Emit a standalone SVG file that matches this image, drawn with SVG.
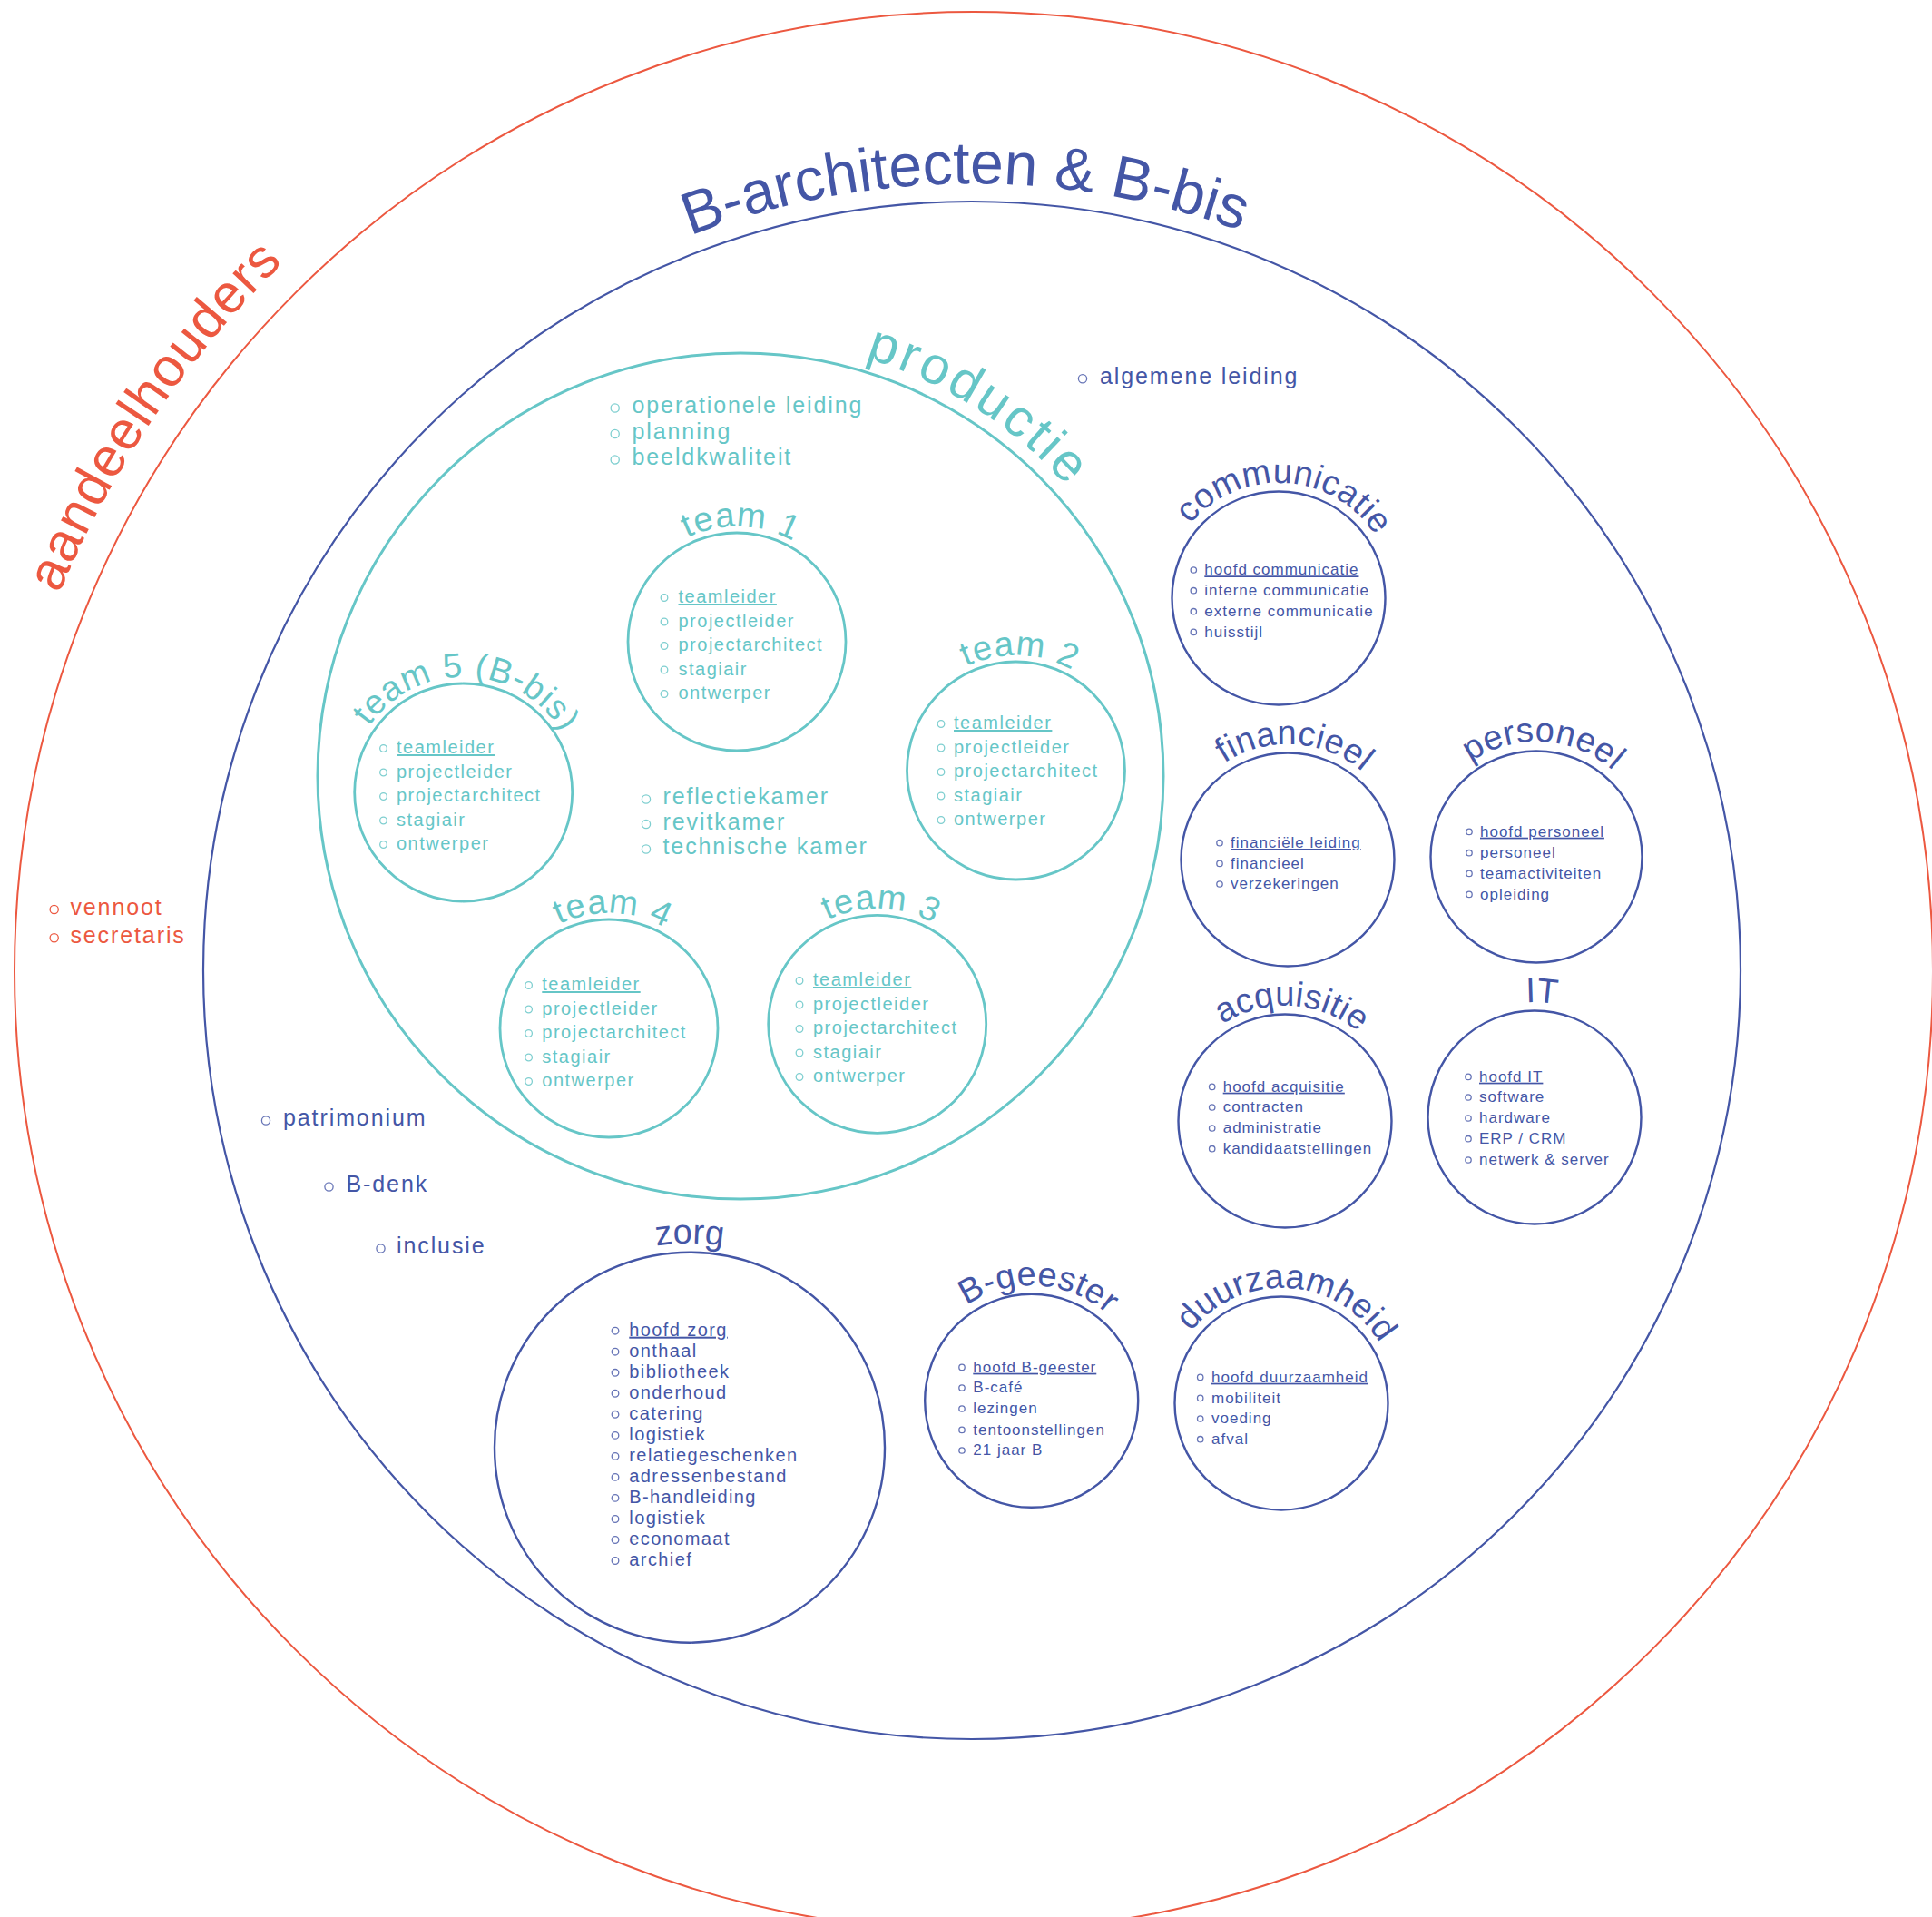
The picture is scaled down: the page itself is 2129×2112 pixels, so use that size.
<svg xmlns="http://www.w3.org/2000/svg" width="2129" height="2112" viewBox="0 0 2129 2112">
<style>
text{font-family:"Liberation Sans",Arial,Helvetica,sans-serif}
.red{fill:#EC5840}
.blue{fill:#4456A6}
.teal{fill:#66C6C7}
.c-red{fill:none;stroke:#EC5840;stroke-width:2}
.c-blue{fill:none;stroke:#4456A6;stroke-width:2.2}
.c-sub{fill:none;stroke:#4456A6;stroke-width:2.4}
.c-prod{fill:none;stroke:#66C6C7;stroke-width:3}
.c-team{fill:none;stroke:#66C6C7;stroke-width:2.8}
.bt{fill:none;stroke:#7FCFD0;stroke-width:1.3}
.bb{fill:none;stroke:#6674B6;stroke-width:1.3}
.br{fill:none;stroke:#EC5840;stroke-width:1.3}
.big{font-size:66px}
.alab{font-size:60px;letter-spacing:1px}
.plab{font-size:58px;letter-spacing:3.5px}
.lab{font-size:38px;letter-spacing:0.3px}
.tlab{font-size:38px;letter-spacing:1px}
.l25{font-size:25px;letter-spacing:1.9px}
.l20{font-size:20px;letter-spacing:1.5px}
.l17{font-size:17px;letter-spacing:1px}
.u{text-decoration:underline}
</style>
<defs>
<path id="p-aand" d="M92.5,1546.1 A1090,1090 0 0 1 1150.9,-17.2"/>
<path id="p-barch" d="M206.7,1001 A867,867 0 0 1 1934,985.9"/>
<path id="p-prod" d="M462.5,528.8 A481,481 0 0 1 1259.7,1040.6"/>
<path id="p-t1" d="M685.95,691.52 A127,127 0 0 1 938.83,700.35"/>
<path id="p-t2" d="M993.45,833.52 A127,127 0 0 1 1246.33,842.35"/>
<path id="p-t3" d="M840.65,1112.82 A127,127 0 0 1 1093.53,1121.65"/>
<path id="p-t4" d="M544.95,1117.52 A127,127 0 0 1 797.83,1126.35"/>
<path id="p-t5" d="M384.65,857.52 A127,127 0 0 1 637.53,866.35"/>
<path id="p-comm" d="M1283.39,640.23 A127,127 0 0 1 1535.96,655.68"/>
<path id="p-fin" d="M1293.39,928.23 A127,127 0 0 1 1545.96,943.68"/>
<path id="p-pers" d="M1567.39,925.23 A127,127 0 0 1 1819.96,940.68"/>
<path id="p-acq" d="M1290.39,1216.23 A127,127 0 0 1 1542.96,1231.68"/>
<path id="p-it" d="M1565.39,1212.23 A127,127 0 0 1 1817.96,1227.68"/>
<path id="p-bg" d="M1011.09,1524.53 A127,127 0 0 1 1263.66,1539.98"/>
<path id="p-duur" d="M1286.39,1527.23 A127,127 0 0 1 1538.96,1542.68"/>
<path id="p-zorg" d="M535.86,1575.09 A225,225 0 0 1 984.14,1575.09"/>
</defs>

<g id="aandeelhouders">
<circle class="c-red" cx="1073" cy="1070" r="1057"/>
<text class="red alab"><textPath href="#p-aand" startOffset="50%" text-anchor="middle">aandeelhouders</textPath></text>
<circle class="br" cx="59.7" cy="1002" r="4.6"/>
<circle class="br" cx="59.7" cy="1033.2" r="4.6"/>
<text class="red l25"><tspan x="77.4" y="1007.5">vennoot</tspan><tspan x="77.4" y="1038.7">secretaris</tspan></text>
</g>

<g id="b-architecten">
<circle class="c-blue" cx="1071" cy="1069" r="847"/>
<text class="blue big"><textPath href="#p-barch" startOffset="50%" text-anchor="middle">B-architecten &amp; B-bis</textPath></text>
<circle class="bb" cx="1193" cy="417.2" r="4.6"/>
<text class="blue l25" x="1212" y="422.7">algemene leiding</text>
<circle class="bb" cx="293" cy="1234.5" r="4.6"/>
<text class="blue l25" x="312" y="1240">patrimonium</text>
<circle class="bb" cx="362.5" cy="1307.5" r="4.6"/>
<text class="blue l25" x="381.5" y="1313">B-denk</text>
<circle class="bb" cx="419.5" cy="1375.5" r="4.6"/>
<text class="blue l25" x="437" y="1381">inclusie</text>
</g>

<g id="productie">
<circle class="c-prod" cx="816" cy="855" r="466"/>
<text class="teal plab"><textPath href="#p-prod" startOffset="50%" text-anchor="middle">productie</textPath></text>
<circle class="bt" cx="677.7" cy="449.5" r="4.6"/>
<circle class="bt" cx="677.7" cy="478" r="4.6"/>
<circle class="bt" cx="677.7" cy="506.5" r="4.6"/>
<text class="teal l25"><tspan x="696.5" y="455">operationele leiding</tspan><tspan x="696.5" y="483.5">planning</tspan><tspan x="696.5" y="512">beeldkwaliteit</tspan></text>
<circle class="bt" cx="712" cy="880.5" r="4.6"/>
<circle class="bt" cx="712" cy="908" r="4.6"/>
<circle class="bt" cx="712" cy="935.5" r="4.6"/>
<text class="teal l25"><tspan x="730.5" y="886">reflectiekamer</tspan><tspan x="730.5" y="913.5">revitkamer</tspan><tspan x="730.5" y="941">technische kamer</tspan></text>
</g>

<g id="team-1">
<circle class="c-team" cx="812" cy="707" r="120"/>
<text class="teal tlab"><textPath href="#p-t1" startOffset="50%" text-anchor="middle">team 1</textPath></text>
<circle class="bt" cx="732" cy="658.5" r="3.8"/>
<circle class="bt" cx="732" cy="685" r="3.8"/>
<circle class="bt" cx="732" cy="711.5" r="3.8"/>
<circle class="bt" cx="732" cy="738" r="3.8"/>
<circle class="bt" cx="732" cy="764.5" r="3.8"/>
<text class="teal l20"><tspan class="u" x="747.5" y="664">teamleider</tspan><tspan x="747.5" y="690.5">projectleider</tspan><tspan x="747.5" y="717">projectarchitect</tspan><tspan x="747.5" y="743.5">stagiair</tspan><tspan x="747.5" y="770">ontwerper</tspan></text>
</g>

<g id="team-2">
<circle class="c-team" cx="1119.5" cy="849" r="120"/>
<text class="teal tlab"><textPath href="#p-t2" startOffset="50%" text-anchor="middle">team 2</textPath></text>
<circle class="bt" cx="1037" cy="797.5" r="3.8"/>
<circle class="bt" cx="1037" cy="824" r="3.8"/>
<circle class="bt" cx="1037" cy="850.5" r="3.8"/>
<circle class="bt" cx="1037" cy="877" r="3.8"/>
<circle class="bt" cx="1037" cy="903.5" r="3.8"/>
<text class="teal l20"><tspan class="u" x="1051" y="803">teamleider</tspan><tspan x="1051" y="829.5">projectleider</tspan><tspan x="1051" y="856">projectarchitect</tspan><tspan x="1051" y="882.5">stagiair</tspan><tspan x="1051" y="909">ontwerper</tspan></text>
</g>

<g id="team-3">
<circle class="c-team" cx="966.7" cy="1128.3" r="120"/>
<text class="teal tlab"><textPath href="#p-t3" startOffset="50%" text-anchor="middle">team 3</textPath></text>
<circle class="bt" cx="881" cy="1080.5" r="3.8"/>
<circle class="bt" cx="881" cy="1107" r="3.8"/>
<circle class="bt" cx="881" cy="1133.5" r="3.8"/>
<circle class="bt" cx="881" cy="1160" r="3.8"/>
<circle class="bt" cx="881" cy="1186.5" r="3.8"/>
<text class="teal l20"><tspan class="u" x="896" y="1086">teamleider</tspan><tspan x="896" y="1112.5">projectleider</tspan><tspan x="896" y="1139">projectarchitect</tspan><tspan x="896" y="1165.5">stagiair</tspan><tspan x="896" y="1192">ontwerper</tspan></text>
</g>

<g id="team-4">
<circle class="c-team" cx="671" cy="1133" r="120"/>
<text class="teal tlab"><textPath href="#p-t4" startOffset="50%" text-anchor="middle">team 4</textPath></text>
<circle class="bt" cx="582.6" cy="1085.5" r="3.8"/>
<circle class="bt" cx="582.6" cy="1112" r="3.8"/>
<circle class="bt" cx="582.6" cy="1138.5" r="3.8"/>
<circle class="bt" cx="582.6" cy="1165" r="3.8"/>
<circle class="bt" cx="582.6" cy="1191.5" r="3.8"/>
<text class="teal l20"><tspan class="u" x="597.3" y="1091">teamleider</tspan><tspan x="597.3" y="1117.5">projectleider</tspan><tspan x="597.3" y="1144">projectarchitect</tspan><tspan x="597.3" y="1170.5">stagiair</tspan><tspan x="597.3" y="1197">ontwerper</tspan></text>
</g>

<g id="team-5">
<circle class="c-team" cx="510.7" cy="873" r="120"/>
<text class="teal tlab"><textPath href="#p-t5" startOffset="50%" text-anchor="middle">team 5 (B-bis)</textPath></text>
<circle class="bt" cx="422.5" cy="824.5" r="3.8"/>
<circle class="bt" cx="422.5" cy="851" r="3.8"/>
<circle class="bt" cx="422.5" cy="877.5" r="3.8"/>
<circle class="bt" cx="422.5" cy="904" r="3.8"/>
<circle class="bt" cx="422.5" cy="930.5" r="3.8"/>
<text class="teal l20"><tspan class="u" x="437" y="830">teamleider</tspan><tspan x="437" y="856.5">projectleider</tspan><tspan x="437" y="883">projectarchitect</tspan><tspan x="437" y="909.5">stagiair</tspan><tspan x="437" y="936">ontwerper</tspan></text>
</g>

<g id="communicatie">
<circle class="c-sub" cx="1409" cy="659" r="117.5"/>
<text class="blue lab"><textPath href="#p-comm" startOffset="50%" text-anchor="middle">communicatie</textPath></text>
<circle class="bb" cx="1315.3" cy="628" r="3.2"/>
<circle class="bb" cx="1315.3" cy="650.7" r="3.2"/>
<circle class="bb" cx="1315.3" cy="673.7" r="3.2"/>
<circle class="bb" cx="1315.3" cy="696.4" r="3.2"/>
<text class="blue l17"><tspan class="u" x="1327.3" y="633.3">hoofd communicatie</tspan><tspan x="1327.3" y="656">interne communicatie</tspan><tspan x="1327.3" y="679">externe communicatie</tspan><tspan x="1327.3" y="701.7">huisstijl</tspan></text>
</g>

<g id="financieel">
<circle class="c-sub" cx="1419" cy="947" r="117.5"/>
<text class="blue lab"><textPath href="#p-fin" startOffset="50%" text-anchor="middle">financieel</textPath></text>
<circle class="bb" cx="1344" cy="928.7" r="3.2"/>
<circle class="bb" cx="1344" cy="951.4" r="3.2"/>
<circle class="bb" cx="1344" cy="974" r="3.2"/>
<text class="blue l17"><tspan class="u" x="1356" y="934">financiële leiding</tspan><tspan x="1356" y="956.7">financieel</tspan><tspan x="1356" y="979.3">verzekeringen</tspan></text>
</g>

<g id="personeel">
<circle class="c-sub" cx="1693" cy="944" r="116.5"/>
<text class="blue lab"><textPath href="#p-pers" startOffset="50%" text-anchor="middle">personeel</textPath></text>
<circle class="bb" cx="1619" cy="916.4" r="3.2"/>
<circle class="bb" cx="1619" cy="939.7" r="3.2"/>
<circle class="bb" cx="1619" cy="962.4" r="3.2"/>
<circle class="bb" cx="1619" cy="985.4" r="3.2"/>
<text class="blue l17"><tspan class="u" x="1631" y="921.7">hoofd personeel</tspan><tspan x="1631" y="945">personeel</tspan><tspan x="1631" y="967.7">teamactiviteiten</tspan><tspan x="1631" y="990.7">opleiding</tspan></text>
</g>

<g id="acquisitie">
<circle class="c-sub" cx="1416" cy="1235" r="117.5"/>
<text class="blue lab"><textPath href="#p-acq" startOffset="50%" text-anchor="middle">acquisitie</textPath></text>
<circle class="bb" cx="1335.7" cy="1197.4" r="3.2"/>
<circle class="bb" cx="1335.7" cy="1220" r="3.2"/>
<circle class="bb" cx="1335.7" cy="1243" r="3.2"/>
<circle class="bb" cx="1335.7" cy="1265.7" r="3.2"/>
<text class="blue l17"><tspan class="u" x="1347.7" y="1202.7">hoofd acquisitie</tspan><tspan x="1347.7" y="1225.3">contracten</tspan><tspan x="1347.7" y="1248.3">administratie</tspan><tspan x="1347.7" y="1271">kandidaatstellingen</tspan></text>
</g>

<g id="it">
<circle class="c-sub" cx="1691" cy="1231" r="117.5"/>
<text class="blue lab"><textPath href="#p-it" startOffset="50%" text-anchor="middle">IT</textPath></text>
<circle class="bb" cx="1618" cy="1186.4" r="3.2"/>
<circle class="bb" cx="1618" cy="1209" r="3.2"/>
<circle class="bb" cx="1618" cy="1232" r="3.2"/>
<circle class="bb" cx="1618" cy="1254.7" r="3.2"/>
<circle class="bb" cx="1618" cy="1278" r="3.2"/>
<text class="blue l17"><tspan class="u" x="1630" y="1191.7">hoofd IT</tspan><tspan x="1630" y="1214.3">software</tspan><tspan x="1630" y="1237.3">hardware</tspan><tspan x="1630" y="1260">ERP / CRM</tspan><tspan x="1630" y="1283.3">netwerk &amp; server</tspan></text>
</g>

<g id="zorg">
<circle class="c-sub" cx="760" cy="1594.7" r="215"/>
<text class="blue" style="font-size:38px"><textPath href="#p-zorg" startOffset="50%" text-anchor="middle">zorg</textPath></text>
<circle class="bb" cx="678" cy="1466.2" r="3.8"/>
<circle class="bb" cx="678" cy="1489.2" r="3.8"/>
<circle class="bb" cx="678" cy="1512.3" r="3.8"/>
<circle class="bb" cx="678" cy="1535.3" r="3.8"/>
<circle class="bb" cx="678" cy="1558.3" r="3.8"/>
<circle class="bb" cx="678" cy="1581.4" r="3.8"/>
<circle class="bb" cx="678" cy="1604.4" r="3.8"/>
<circle class="bb" cx="678" cy="1627.4" r="3.8"/>
<circle class="bb" cx="678" cy="1650.4" r="3.8"/>
<circle class="bb" cx="678" cy="1673.5" r="3.8"/>
<circle class="bb" cx="678" cy="1696.5" r="3.8"/>
<circle class="bb" cx="678" cy="1719.5" r="3.8"/>
<text class="blue" style="font-size:20px;letter-spacing:1.4px"><tspan class="u" x="693.3" y="1471.7">hoofd zorg</tspan><tspan x="693.3" y="1494.7">onthaal</tspan><tspan x="693.3" y="1517.8">bibliotheek</tspan><tspan x="693.3" y="1540.8">onderhoud</tspan><tspan x="693.3" y="1563.8">catering</tspan><tspan x="693.3" y="1586.9">logistiek</tspan><tspan x="693.3" y="1609.9">relatiegeschenken</tspan><tspan x="693.3" y="1632.9">adressenbestand</tspan><tspan x="693.3" y="1655.9">B-handleiding</tspan><tspan x="693.3" y="1679">logistiek</tspan><tspan x="693.3" y="1702">economaat</tspan><tspan x="693.3" y="1725">archief</tspan></text>
</g>

<g id="b-geester">
<circle class="c-sub" cx="1136.7" cy="1543.3" r="117.5"/>
<text class="blue lab"><textPath href="#p-bg" startOffset="50%" text-anchor="middle">B-geester</textPath></text>
<circle class="bb" cx="1060" cy="1506.4" r="3.2"/>
<circle class="bb" cx="1060" cy="1529" r="3.2"/>
<circle class="bb" cx="1060" cy="1552" r="3.2"/>
<circle class="bb" cx="1060" cy="1575.4" r="3.2"/>
<circle class="bb" cx="1060" cy="1598" r="3.2"/>
<text class="blue l17"><tspan class="u" x="1072.3" y="1511.7">hoofd B-geester</tspan><tspan x="1072.3" y="1534.3">B-café</tspan><tspan x="1072.3" y="1557.3">lezingen</tspan><tspan x="1072.3" y="1580.7">tentoonstellingen</tspan><tspan x="1072.3" y="1603.3">21 jaar B</tspan></text>
</g>

<g id="duurzaamheid">
<circle class="c-sub" cx="1412" cy="1546" r="117.5"/>
<text class="blue lab"><textPath href="#p-duur" startOffset="50%" text-anchor="middle">duurzaamheid</textPath></text>
<circle class="bb" cx="1322.7" cy="1517.4" r="3.2"/>
<circle class="bb" cx="1322.7" cy="1540.4" r="3.2"/>
<circle class="bb" cx="1322.7" cy="1563" r="3.2"/>
<circle class="bb" cx="1322.7" cy="1585.7" r="3.2"/>
<text class="blue l17"><tspan class="u" x="1335" y="1522.7">hoofd duurzaamheid</tspan><tspan x="1335" y="1545.7">mobiliteit</tspan><tspan x="1335" y="1568.3">voeding</tspan><tspan x="1335" y="1591">afval</tspan></text>
</g>

<g id="connectors"></g>
</svg>
